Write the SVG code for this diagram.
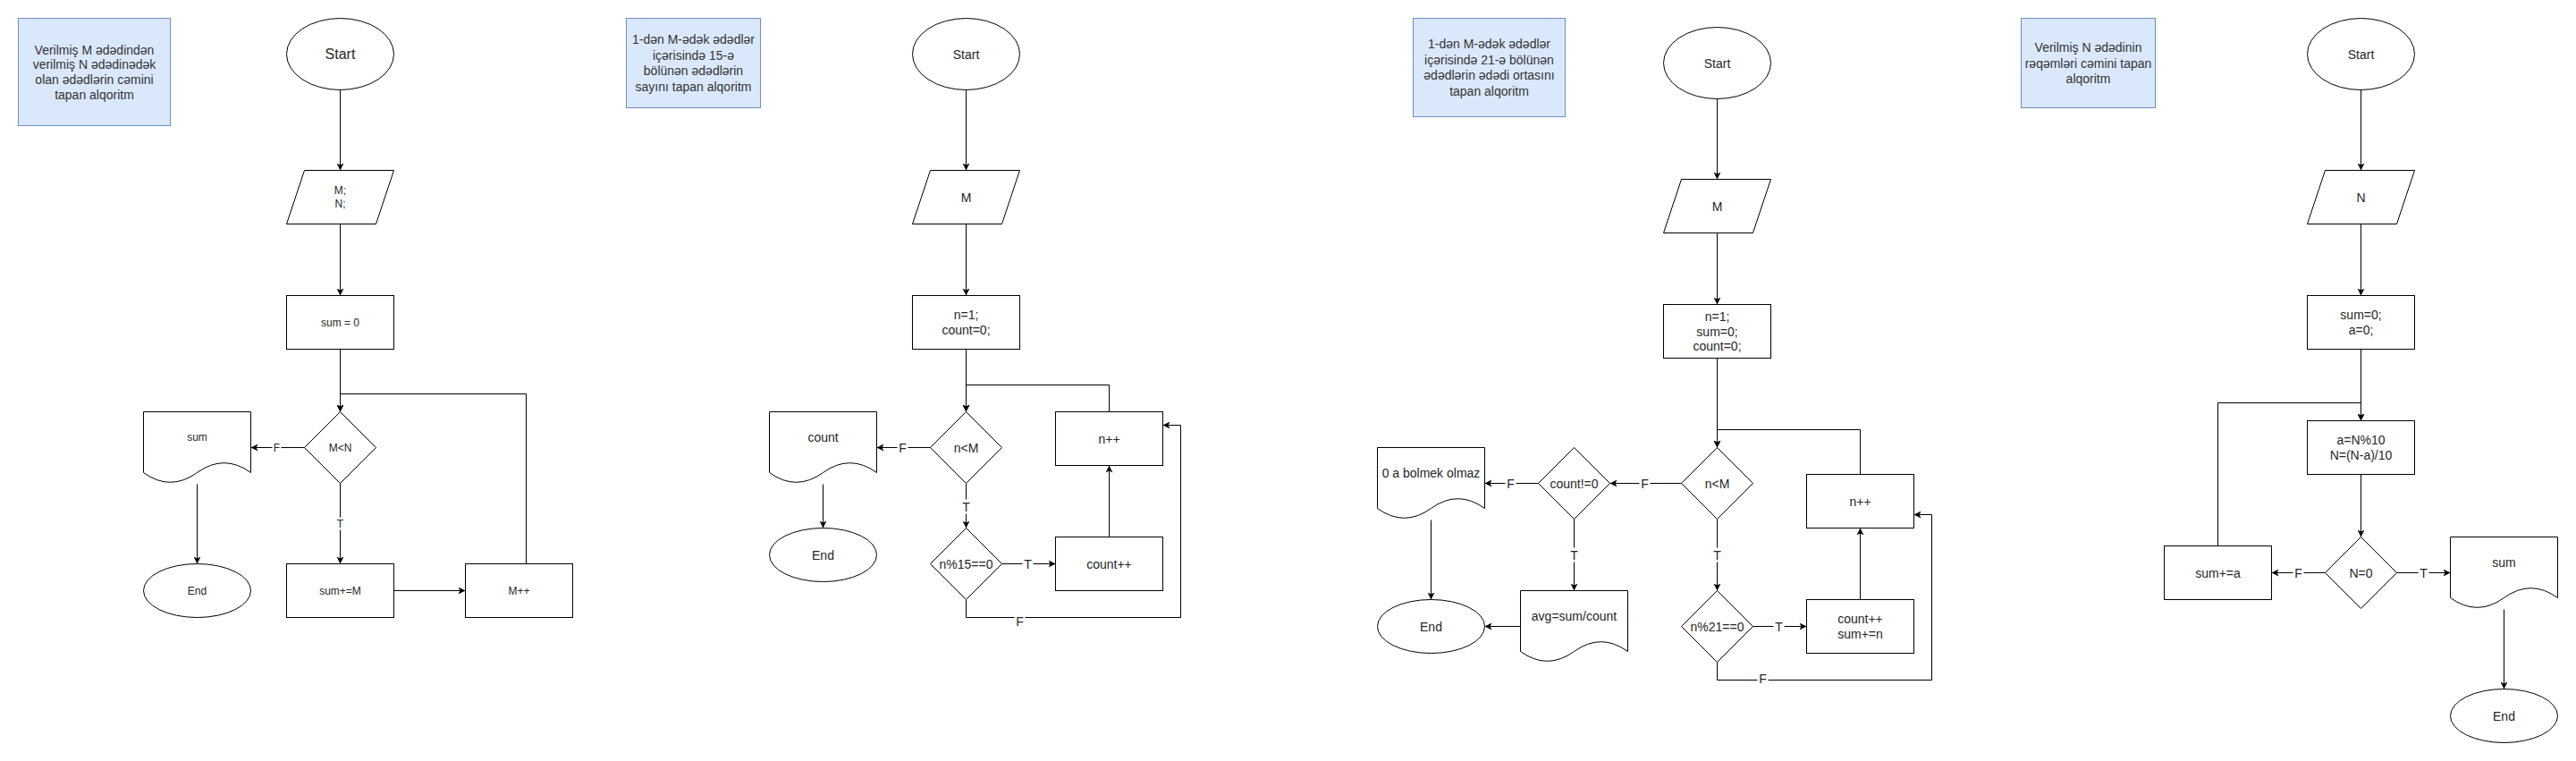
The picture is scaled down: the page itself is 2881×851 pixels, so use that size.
<svg xmlns="http://www.w3.org/2000/svg" width="2881" height="851" viewBox="0 0 2881 851">
<style>
.s{fill:#fff;stroke:#000;stroke-width:1}
.note{fill:#dae8fc;stroke:#6c8ebf;stroke-width:1}
.t{font-family:"Liberation Sans",Arial,Helvetica,sans-serif;text-anchor:middle;dominant-baseline:central;fill:#262626;font-size:14px}
.t12{font-size:12px}
.t16{font-size:16px}
.n{fill:#333333;font-size:14px}
.e{fill:none;stroke:#000;stroke-width:1}
.lb{fill:#fff;stroke:none}
</style>
<defs>
<marker id="a" viewBox="0 0 10 10" refX="10" refY="5" markerWidth="8" markerHeight="8" markerUnits="userSpaceOnUse" orient="auto">
<path d="M0,0 L10,5 L0,10 L2.5,5 Z" fill="#000"/>
</marker>
</defs>
<rect width="2881" height="851" fill="#fff"/>
<g transform="translate(0.5,0.5)">
<!-- ===== Flowchart 1 ===== -->
<g id="note1"><rect class="note" x="20" y="20" width="170" height="120"/>
<text class="t n" x="105"><tspan x="105" y="55">Verilmiş M ədədindən</tspan><tspan x="105" y="71.7">verilmiş N ədədinədək</tspan><tspan x="105" y="88.4">olan ədədlərin cəmini</tspan><tspan x="105" y="105.1">tapan alqoritm</tspan></text></g>
<g id="start1"><ellipse class="s" cx="380" cy="60" rx="60" ry="40"/><text class="t t16" x="380" y="60">Start</text></g>
<g id="input1"><polygon class="s" points="340,190 440,190 420,250 320,250"/><text class="t t12"><tspan x="380" y="212.8">M;</tspan><tspan x="380" y="227.2">N;</tspan></text></g>
<g id="init1"><rect class="s" x="320" y="330" width="120" height="60"/><text class="t t12" x="380" y="360">sum = 0</text></g>
<g id="cond1"><polygon class="s" points="380,460 420,500 380,540 340,500"/><text class="t t12" x="380" y="500">M&lt;N</text></g>
<g id="out1"><path class="s" d="M160,460 H280 V528 Q250,506.4 220,528 Q190,549.6 160,528 Z"/><text class="t t12" x="220" y="488">sum</text></g>
<g id="end1"><ellipse class="s" cx="220" cy="660" rx="60" ry="30"/><text class="t t12" x="220" y="660">End</text></g>
<g id="add1"><rect class="s" x="320" y="630" width="120" height="60"/><text class="t t12" x="380" y="660">sum+=M</text></g>
<g id="inc1"><rect class="s" x="520" y="630" width="120" height="60"/><text class="t t12" x="580" y="660">M++</text></g>

<!-- ===== Flowchart 2 ===== -->
<g id="note2"><rect class="note" x="700" y="20" width="150" height="100"/>
<text class="t n"><tspan x="775" y="43.4">1-dən M-ədək ədədlər</tspan><tspan x="775" y="61.1">içərisində 15-ə</tspan><tspan x="775" y="78.9">bölünən ədədlərin</tspan><tspan x="775" y="96.6">sayını tapan alqoritm</tspan></text></g>
<g id="start2"><ellipse class="s" cx="1080" cy="60" rx="60" ry="40"/><text class="t" x="1080" y="60">Start</text></g>
<g id="input2"><polygon class="s" points="1040,190 1140,190 1120,250 1020,250"/><text class="t" x="1080" y="220">M</text></g>
<g id="init2"><rect class="s" x="1020" y="330" width="120" height="60"/><text class="t"><tspan x="1080" y="351.6">n=1;</tspan><tspan x="1080" y="368.4">count=0;</tspan></text></g>
<g id="cond2"><polygon class="s" points="1080,460 1120,500 1080,540 1040,500"/><text class="t" x="1080" y="500">n&lt;M</text></g>
<g id="out2"><path class="s" d="M860,460 H980 V528 Q950,506.4 920,528 Q890,549.6 860,528 Z"/><text class="t" x="920" y="488">count</text></g>
<g id="end2"><ellipse class="s" cx="920" cy="620" rx="60" ry="30"/><text class="t" x="920" y="620">End</text></g>
<g id="mod2"><polygon class="s" points="1080,590 1120,630 1080,670 1040,630"/><text class="t" x="1080" y="630">n%15==0</text></g>
<g id="inc2"><rect class="s" x="1180" y="460" width="120" height="60"/><text class="t" x="1240" y="490">n++</text></g>
<g id="cnt2"><rect class="s" x="1180" y="600" width="120" height="60"/><text class="t" x="1240" y="630">count++</text></g>

<!-- ===== Flowchart 3 ===== -->
<g id="note3"><rect class="note" x="1580" y="20" width="170" height="110"/>
<text class="t n"><tspan x="1665" y="48.4">1-dən M-ədək ədədlər</tspan><tspan x="1665" y="66.1">içərisində 21-ə bölünən</tspan><tspan x="1665" y="83.9">ədədlərin ədədi ortasını</tspan><tspan x="1665" y="101.6">tapan alqoritm</tspan></text></g>
<g id="start3"><ellipse class="s" cx="1920" cy="70" rx="60" ry="40"/><text class="t" x="1920" y="70">Start</text></g>
<g id="input3"><polygon class="s" points="1880,200 1980,200 1960,260 1860,260"/><text class="t" x="1920" y="230">M</text></g>
<g id="init3"><rect class="s" x="1860" y="340" width="120" height="60"/><text class="t"><tspan x="1920" y="353.2">n=1;</tspan><tspan x="1920" y="370">sum=0;</tspan><tspan x="1920" y="386.8">count=0;</tspan></text></g>
<g id="cond3"><polygon class="s" points="1920,500 1960,540 1920,580 1880,540"/><text class="t" x="1920" y="540">n&lt;M</text></g>
<g id="inc3"><rect class="s" x="2020" y="530" width="120" height="60"/><text class="t" x="2080" y="560">n++</text></g>
<g id="chk3"><polygon class="s" points="1760,500 1800,540 1760,580 1720,540"/><text class="t" x="1760" y="540">count!=0</text></g>
<g id="err3"><path class="s" d="M1540,500 H1660 V568 Q1630,546.4 1600,568 Q1570,589.6 1540,568 Z"/><text class="t" x="1600" y="528">0 a bolmek olmaz</text></g>
<g id="end3"><ellipse class="s" cx="1600" cy="700" rx="60" ry="30"/><text class="t" x="1600" y="700">End</text></g>
<g id="avg3"><path class="s" d="M1700,660 H1820 V728 Q1790,706.4 1760,728 Q1730,749.6 1700,728 Z"/><text class="t" x="1760" y="688">avg=sum/count</text></g>
<g id="mod3"><polygon class="s" points="1920,660 1960,700 1920,740 1880,700"/><text class="t" x="1920" y="700">n%21==0</text></g>
<g id="cnt3"><rect class="s" x="2020" y="670" width="120" height="60"/><text class="t"><tspan x="2080" y="691.6">count++</tspan><tspan x="2080" y="708.4">sum+=n</tspan></text></g>

<!-- ===== Flowchart 4 ===== -->
<g id="note4"><rect class="note" x="2260" y="20" width="150" height="100"/>
<text class="t n"><tspan x="2335" y="52.3">Verilmiş N ədədinin</tspan><tspan x="2335" y="70">rəqəmləri cəmini tapan</tspan><tspan x="2335" y="87.7">alqoritm</tspan></text></g>
<g id="start4"><ellipse class="s" cx="2640" cy="60" rx="60" ry="40"/><text class="t" x="2640" y="60">Start</text></g>
<g id="input4"><polygon class="s" points="2600,190 2700,190 2680,250 2580,250"/><text class="t" x="2640" y="220">N</text></g>
<g id="init4"><rect class="s" x="2580" y="330" width="120" height="60"/><text class="t"><tspan x="2640" y="351.6">sum=0;</tspan><tspan x="2640" y="368.4">a=0;</tspan></text></g>
<g id="step4"><rect class="s" x="2580" y="470" width="120" height="60"/><text class="t"><tspan x="2640" y="491.6">a=N%10</tspan><tspan x="2640" y="508.4">N=(N-a)/10</tspan></text></g>
<g id="cond4"><polygon class="s" points="2640,600 2680,640 2640,680 2600,640"/><text class="t" x="2640" y="640">N=0</text></g>
<g id="add4"><rect class="s" x="2420" y="610" width="120" height="60"/><text class="t" x="2480" y="640">sum+=a</text></g>
<g id="out4"><path class="s" d="M2740,600 H2860 V668 Q2830,646.4 2800,668 Q2770,689.6 2740,668 Z"/><text class="t" x="2800" y="628">sum</text></g>
<g id="end4"><ellipse class="s" cx="2800" cy="800" rx="60" ry="30"/><text class="t" x="2800" y="800">End</text></g>

<!-- ===== Connectors ===== -->
<g id="connectors">
<!-- FC1 -->
<path class="e" d="M380,100 V190" marker-end="url(#a)"/>
<path class="e" d="M380,250 V330" marker-end="url(#a)"/>
<path class="e" d="M380,390 V460" marker-end="url(#a)"/>
<path class="e" d="M588,630 V440 H380 V460" marker-end="url(#a)"/>
<path class="e" d="M340,500 H280" marker-end="url(#a)"/>
<path class="e" d="M380,540 V630" marker-end="url(#a)"/>
<path class="e" d="M220,541 V630" marker-end="url(#a)"/>
<path class="e" d="M440,660 H520" marker-end="url(#a)"/>
<rect class="lb" x="304" y="493" width="10" height="14"/><text class="t t12" x="309" y="500">F</text>
<rect class="lb" x="375" y="578" width="10" height="14"/><text class="t t12" x="380" y="585">T</text>
<!-- FC2 -->
<path class="e" d="M1080,100 V190" marker-end="url(#a)"/>
<path class="e" d="M1080,250 V330" marker-end="url(#a)"/>
<path class="e" d="M1080,390 V460" marker-end="url(#a)"/>
<path class="e" d="M1240,460 V430 H1080 V460" marker-end="url(#a)"/>
<path class="e" d="M1040,500 H980" marker-end="url(#a)"/>
<path class="e" d="M920,541 V590" marker-end="url(#a)"/>
<path class="e" d="M1080,540 V590" marker-end="url(#a)"/>
<path class="e" d="M1120,630 H1180" marker-end="url(#a)"/>
<path class="e" d="M1240,600 V520" marker-end="url(#a)"/>
<path class="e" d="M1080,670 V690 H1320 V475 H1300" marker-end="url(#a)"/>
<rect class="lb" x="1003" y="492" width="12" height="16"/><text class="t" x="1009" y="500">F</text>
<rect class="lb" x="1074" y="558" width="12" height="16"/><text class="t" x="1080" y="566">T</text>
<rect class="lb" x="1143" y="622" width="12" height="16"/><text class="t" x="1149" y="630">T</text>
<rect class="lb" x="1134" y="686" width="12" height="16"/><text class="t" x="1140" y="694">F</text>
<!-- FC3 -->
<path class="e" d="M1920,110 V200" marker-end="url(#a)"/>
<path class="e" d="M1920,260 V340" marker-end="url(#a)"/>
<path class="e" d="M1920,400 V500" marker-end="url(#a)"/>
<path class="e" d="M2080,530 V480 H1920 V500" marker-end="url(#a)"/>
<path class="e" d="M1880,540 H1800" marker-end="url(#a)"/>
<path class="e" d="M1720,540 H1660" marker-end="url(#a)"/>
<path class="e" d="M1600,581 V670" marker-end="url(#a)"/>
<path class="e" d="M1760,580 V660" marker-end="url(#a)"/>
<path class="e" d="M1700,700 H1660" marker-end="url(#a)"/>
<path class="e" d="M1920,580 V660" marker-end="url(#a)"/>
<path class="e" d="M1960,700 H2020" marker-end="url(#a)"/>
<path class="e" d="M2080,670 V590" marker-end="url(#a)"/>
<path class="e" d="M1920,740 V760 H2160 V575 H2140" marker-end="url(#a)"/>
<rect class="lb" x="1833" y="532" width="12" height="16"/><text class="t" x="1839" y="540">F</text>
<rect class="lb" x="1683" y="532" width="12" height="16"/><text class="t" x="1689" y="540">F</text>
<rect class="lb" x="1754" y="612" width="12" height="16"/><text class="t" x="1760" y="620">T</text>
<rect class="lb" x="1914" y="612" width="12" height="16"/><text class="t" x="1920" y="620">T</text>
<rect class="lb" x="1983" y="692" width="12" height="16"/><text class="t" x="1989" y="700">T</text>
<rect class="lb" x="1965" y="750" width="12" height="16"/><text class="t" x="1971" y="758">F</text>
<!-- FC4 -->
<path class="e" d="M2640,100 V190" marker-end="url(#a)"/>
<path class="e" d="M2640,250 V330" marker-end="url(#a)"/>
<path class="e" d="M2640,390 V470" marker-end="url(#a)"/>
<path class="e" d="M2640,530 V600" marker-end="url(#a)"/>
<path class="e" d="M2480,610 V450 H2640 V470" marker-end="url(#a)"/>
<path class="e" d="M2600,640 H2540" marker-end="url(#a)"/>
<path class="e" d="M2680,640 H2740" marker-end="url(#a)"/>
<path class="e" d="M2800,681 V770" marker-end="url(#a)"/>
<rect class="lb" x="2564" y="632" width="12" height="16"/><text class="t" x="2570" y="640">F</text>
<rect class="lb" x="2704" y="632" width="12" height="16"/><text class="t" x="2710" y="640">T</text>
</g>
</g>
</svg>
